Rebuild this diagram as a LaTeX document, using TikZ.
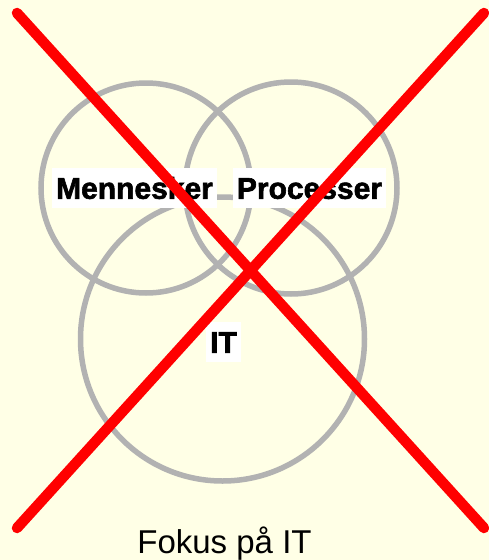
\documentclass[tikz,border=0pt]{standalone}
\usepackage{fontspec}
\setmainfont{Liberation Sans}
\newfontface\heavyfont{Liberation Sans Bold}[FakeBold=2]
\definecolor{bgyellow}{RGB}{255,255,230}
\definecolor{ringgray}{RGB}{178,178,178}
\definecolor{crossred}{RGB}{255,0,0}
\begin{document}
\begin{tikzpicture}[x=1pt,y=-1pt,
  ring/.style={draw=ringgray,line width=5.5pt},
  tag/.style={fill=white,inner xsep=4pt,inner ysep=9.25pt,text height=21.5pt,text depth=0pt,
    font=\heavyfont\fontsize{30}{36}\selectfont},
  cross/.style={draw=crossred,line width=10.5pt,line cap=round}]
\fill[bgyellow] (0,0) rectangle (489,560);
\useasboundingbox (0,0) rectangle (489,560);
\draw[ring] (146,188) circle (105);
\draw[ring] (291,188) circle (106);
\draw[ring] (222.5,339) circle (142);
\node[tag] (men) at (134.5,188) {Mennesker};
\node[tag] (pro) at (309.5,188) {Processer};
\node[tag] (it) at (223.5,342) {IT};
\coordinate (tl) at (17,13);
\coordinate (br) at (484,528);
\coordinate (tr) at (484,13);
\coordinate (bl) at (17,528);
\draw[cross] (tl) -- (br);
\draw[cross] (tr) -- (bl);
\node[anchor=base,inner sep=0pt,font=\fontsize{33}{40}\selectfont] (cap) at (224.5,553) {Fokus på IT};
\end{tikzpicture}
\end{document}
